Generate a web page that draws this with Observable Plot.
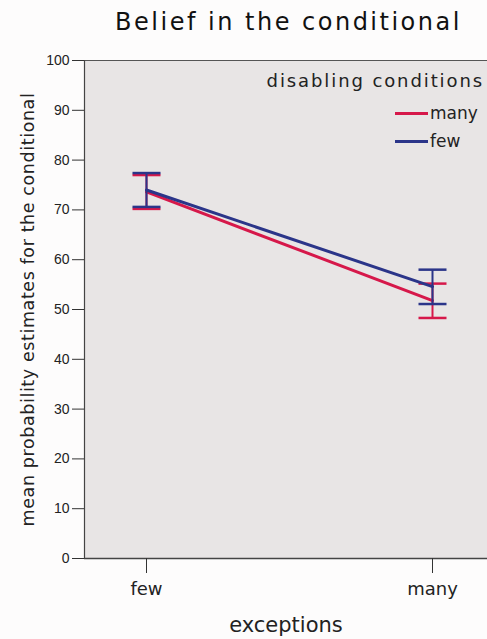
<!DOCTYPE html>
<html>
<head>
<meta charset="utf-8">
<script src="https://cdn.jsdelivr.net/npm/d3@7"></script>
<script src="https://cdn.jsdelivr.net/npm/@observablehq/plot@0.6"></script>
<style>
  html, body { margin: 0; padding: 0; background: #fdfcfc; }
  #wrap { position: relative; width: 487px; height: 639px; overflow: hidden; }
  #title { height: 45px; line-height: 44px; text-align: center; padding-left: 90px; box-sizing: border-box;
           font-family: "DejaVu Sans", sans-serif; font-size: 24px; letter-spacing: 2.5px; color: #111; white-space: nowrap; }
  #legend { position: absolute; right: 3px; top: 70px; font-family: "DejaVu Sans", sans-serif; color: #222; text-align: right; }
  #legend .hd { font-size: 18px; letter-spacing: 1.9px; margin-bottom: 8px; }
  #legend .it { font-size: 17px; height: 28px; line-height: 22px; display: flex; justify-content: flex-end; align-items: center; }
  #legend .sw { display: inline-block; width: 33px; height: 3px; margin-right: 2px; }
  #chart svg text.ylab { letter-spacing: 0.6px; }
</style>
</head>
<body>
<div id="wrap">
  <div id="title">Belief in the conditional</div>
  <div id="chart"></div>
  <div id="legend"></div>
</div>
<script>
const exceptions = ["few", "many"];
const conditions = ["many", "few"];
const colors = ["#d6184a", "#2b3589"];
// means and 95% CI per disabling condition, by exceptions
const meanMany = [73.6, 51.8];
const lowMany = [70.2, 48.3];
const highMany = [77.0, 55.2];
const meanFew = [74.0, 54.6];
const lowFew = [70.6, 51.1];
const highFew = [77.4, 58.0];
const yTicks = [0, 10, 20, 30, 40, 50, 60, 70, 80, 90, 100];
const yLabel = "mean probability estimates for the conditional";
const xLabel = "exceptions";

const rows = [];
exceptions.forEach((e, i) => {
  rows.push({exc: e, cond: "many", mean: meanMany[i], lo: lowMany[i], hi: highMany[i]});
});
exceptions.forEach((e, i) => {
  rows.push({exc: e, cond: "few", mean: meanFew[i], lo: lowFew[i], hi: highFew[i]});
});

const colorScale = {domain: conditions, range: colors};
const capRows = rows.flatMap(d => [{...d, v: d.lo}, {...d, v: d.hi}]);
const capSymbol = {draw(ctx) { ctx.moveTo(-14, 0); ctx.lineTo(14, 0); }};

function series(cond) {
  const r = rows.filter(d => d.cond === cond);
  const c = capRows.filter(d => d.cond === cond);
  return [
    Plot.line(r, {x: "exc", y: "mean", stroke: "cond", strokeWidth: 3}),
    Plot.ruleX(r, {x: "exc", y1: "lo", y2: "hi", stroke: "cond", strokeWidth: 2}),
    Plot.dot(c, {x: "exc", y: "v", stroke: "cond", symbol: capSymbol, strokeWidth: 2.5, r: 4})
  ];
}

const chart = Plot.plot({
  width: 487,
  height: 594,
  marginTop: 15,
  marginLeft: 84,
  marginRight: 0,
  marginBottom: 81,
  style: {background: "transparent", fontFamily: "DejaVu Sans, sans-serif", color: "#222"},
  x: {domain: exceptions, type: "point", padding: 0.2045, align: 0.53},
  y: {domain: [0, 100]},
  color: colorScale,
  marks: [
    Plot.frame({fill: "#e8e5e5", stroke: null}),
    Plot.ruleY([100], {stroke: "#555", strokeWidth: 1.2}),
    Plot.frame({anchor: "left", stroke: "#444", strokeWidth: 1.2}),
    Plot.ruleY([0], {stroke: "#444", strokeWidth: 1.5}),
    Plot.axisY({ticks: yTicks, tickSize: 12, tickPadding: 3, fontSize: 14, stroke: "#333",
                tickFormat: d => String(d), fontFamily: "Liberation Sans, Arial, sans-serif", label: null}),
    Plot.axisX({tickSize: 15, tickPadding: 9, fontSize: 18, stroke: "#333", label: null}),
    Plot.text([yLabel], {frameAnchor: "left", textAnchor: "middle", rotate: -90, dx: -56, fontSize: 17.5, fill: "#222", className: "ylab"}),
    Plot.text([xLabel], {frameAnchor: "bottom", dy: 73, fontSize: 21, fill: "#222"}),
    ...series("many"),
    ...series("few")
  ]
});
document.getElementById("chart").appendChild(chart);
d3.select(chart).selectAll("g.ylab text, text.ylab").style("letter-spacing", "0.6px");

const lg = document.getElementById("legend");
lg.innerHTML = `<div class="hd">disabling conditions</div>` +
  conditions.map((c, i) => `<div class="it"><span class="sw" style="background:${colors[i]}"></span><span style="width:54px;text-align:left">${c}</span></div>`).join("");
</script>
</body>
</html>
